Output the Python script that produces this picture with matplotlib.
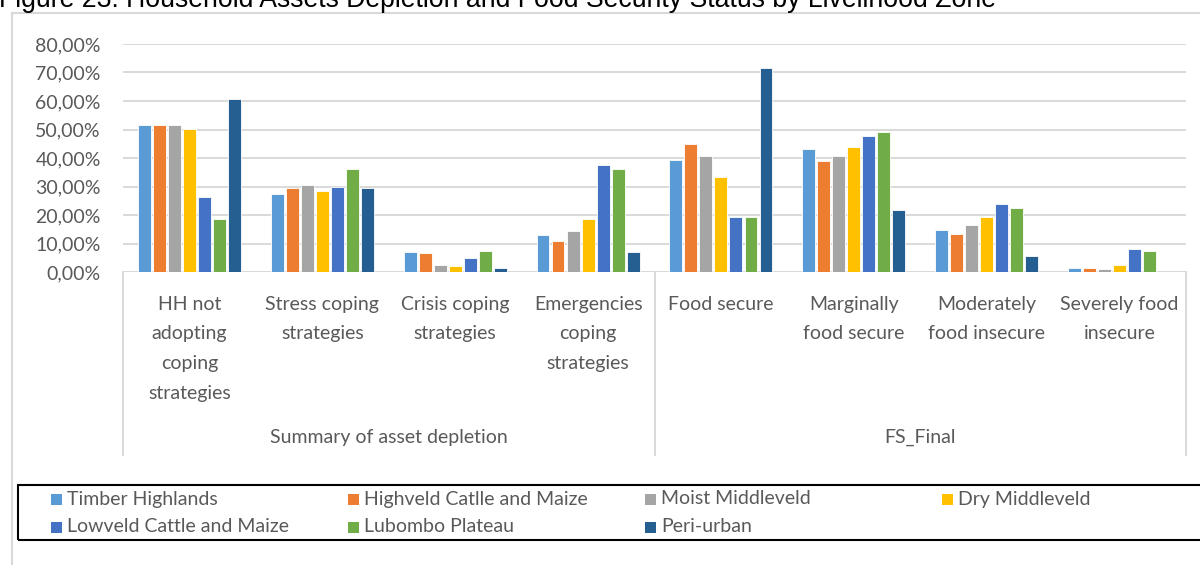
import numpy as np
import matplotlib
matplotlib.use('Agg')
import matplotlib.pyplot as plt
from matplotlib.patches import Rectangle

# 数据：各生计区在各类别下的比例
categories = ['HH not\nadopting\ncoping\nstrategies', 'Stress coping\nstrategies',
              'Crisis coping\nstrategies', 'Emergencies\ncoping\nstrategies',
              'Food secure', 'Marginally\nfood secure', 'Moderately\nfood insecure',
              'Severely food\ninsecure']
group_labels = ['Summary of asset depletion', 'FS_Final']
zones = ['Timber Highlands', 'Highveld Catlle and Maize', 'Moist Middleveld',
         'Dry Middleveld', 'Lowveld Cattle and Maize', 'Lubombo Plateau', 'Peri-urban']

timber = [0.517, 0.273, 0.070, 0.129, 0.393, 0.433, 0.149, 0.015]
highveld = [0.517, 0.293, 0.065, 0.109, 0.448, 0.388, 0.135, 0.015]
moist = [0.515, 0.304, 0.024, 0.144, 0.407, 0.407, 0.164, 0.010]
dry = [0.503, 0.284, 0.020, 0.185, 0.334, 0.438, 0.194, 0.024]
lowveld = [0.264, 0.299, 0.050, 0.374, 0.194, 0.477, 0.240, 0.080]
lubombo = [0.185, 0.363, 0.075, 0.363, 0.194, 0.492, 0.224, 0.075]
peri_urban = [0.608, 0.293, 0.015, 0.070, 0.717, 0.219, 0.055, 0.0]

series = [timber, highveld, moist, dry, lowveld, lubombo, peri_urban]
colors = ['#5B9BD5', '#ED7D31', '#A5A5A5', '#FFC000', '#4472C4', '#70AD47', '#255E91']

plt.rcParams['font.family'] = ['Lato', 'DejaVu Sans']
txt_color = '#595959'
grid_color = '#d9d9d9'

W, H = 1200, 565
fig = plt.figure(figsize=(W / 100, H / 100), dpi=100)
ax = fig.add_axes([123 / W, 1 - 272 / H, (1186 - 123) / W, (272 - 44) / H])

x = np.arange(len(categories)) + 0.5
step = 0.113
width = step * 0.86
for i, (vals, c) in enumerate(zip(series, colors)):
    ax.bar(x + (i - 3) * step, vals, width, color=c, edgecolor='white',
           linewidth=0.6, label=zones[i], zorder=3)

ax.set_xlim(0, len(categories))
ax.set_ylim(0, 0.8)
ax.set_yticks(np.arange(0, 0.81, 0.1))
ax.set_yticklabels([f'{v * 100:.2f}%'.replace('.', ',') for v in np.arange(0, 0.81, 0.1)],
                   fontsize=14, color=txt_color)
ax.tick_params(axis='y', length=0, pad=16)
ax.set_xticks([])
ax.grid(axis='y', color=grid_color, linewidth=1.4, zorder=0)
for s in ax.spines.values():
    s.set_visible(False)

# 类别标签和分组分隔线
trans = ax.get_xaxis_transform()
for xi, lab in zip(x, categories):
    ax.text(xi, -0.104, lab, transform=trans, ha='center', va='top', fontsize=14,
            color=txt_color, linespacing=1.9)
ax.text(2, -0.725, group_labels[0], transform=trans, ha='center', va='center',
        fontsize=14, color=txt_color)
ax.text(6, -0.725, group_labels[1], transform=trans, ha='center', va='center',
        fontsize=14, color=txt_color)
for xs in [0, 4, 8]:
    ax.plot([xs, xs], [0, -0.803], transform=trans, color=grid_color,
            linewidth=1.4, clip_on=False)

# 外框和标题
fig.patches.append(Rectangle((12 / W, -0.1), 1.2, 1.1 - 13 / H, transform=fig.transFigure,
                             fill=False, edgecolor=grid_color, linewidth=1.5))
fig.text(-1 / W, 1 - 7 / H, 'Figure 23: Household Assets Depletion and Food Security Status by Livelihood Zone',
         ha='left', va='baseline', fontsize=19.2, family='Liberation Sans', color='black')

# 图例（手动按行排列，每列间距相同）
fig.patches.append(Rectangle((18 / W, 1 - 540 / H), 1.2, 55 / H, transform=fig.transFigure,
                             fill=False, edgecolor='black', linewidth=1.5))
for i, (name, c) in enumerate(zip(zones, colors)):
    row, col = divmod(i, 4)
    px = 51 + col * 297
    py = 499 + row * 28
    fig.patches.append(Rectangle((px / W, 1 - (py + 5.5) / H), 11 / W, 11 / H,
                                 transform=fig.transFigure, color=c, linewidth=0))
    fig.text((px + 16) / W, 1 - py / H, name, ha='left', va='center',
             fontsize=14, color=txt_color)

fig.savefig('out.png', dpi=100)
